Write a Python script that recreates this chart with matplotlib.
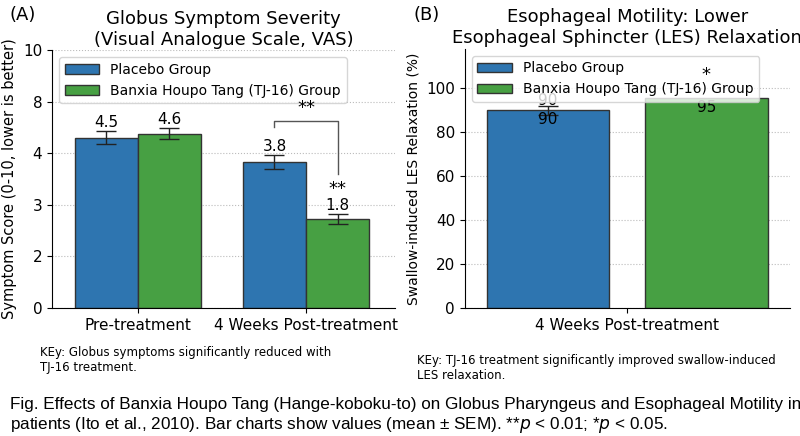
import matplotlib.pyplot as plt

groups = ["Pre-treatment", "4 Weeks Post-treatment"]
placebo = [3.3, 2.83]
tj16 = [3.38, 1.72]
placebo_err = [0.13, 0.13]
tj16_err = [0.1, 0.1]
placebo_lbl = ["4.5", "3.8"]
tj16_lbl = ["4.6", "1.8"]
vas_ticks = [0, 1, 2, 3, 4, 5]
vas_ticklabels = ["0", "2", "3", "4", "8", "10"]

les_placebo = 90
les_tj16 = 95.5
les_placebo_err = 2

BLUE = "#2e75b0"
GREEN = "#47a043"


def main():
    plt.rcParams["font.family"] = "DejaVu Sans"
    fig = plt.figure(figsize=(8.0, 4.36), dpi=100)
    ax1 = fig.add_axes([0.065, 0.294, 0.429, 0.591])
    ax2 = fig.add_axes([0.581, 0.294, 0.406, 0.594])

    w = 0.375
    x = [0, 1]
    ekw = dict(ecolor="#222222", capsize=7, elinewidth=1)
    ax1.bar([i - w / 2 for i in x], placebo, w, yerr=placebo_err, color=BLUE,
            edgecolor="#333333", label="Placebo Group", error_kw=ekw, zorder=2)
    ax1.bar([i + w / 2 for i in x], tj16, w, yerr=tj16_err, color=GREEN,
            edgecolor="#333333", label="Banxia Houpo Tang (TJ-16) Group",
            error_kw=ekw, zorder=2)
    for i in x:
        ax1.text(i - w / 2, placebo[i] + placebo_err[i] + 0.02, placebo_lbl[i],
                 ha="center", va="bottom", fontsize=11)
        ax1.text(i + w / 2, tj16[i] + tj16_err[i] + 0.02, tj16_lbl[i],
                 ha="center", va="bottom", fontsize=11)
    ax1.text(1 + w / 2, 2.3, "**", ha="center", va="center", fontsize=13)
    ax1.plot([1 - w / 2, 1 - w / 2, 1 + w / 2, 1 + w / 2],
             [3.5, 3.63, 3.63, 2.6], color="#555555", lw=1)
    ax1.text(1, 3.7, "**", ha="center", va="bottom", fontsize=13, zorder=10)
    ax1.set_xlim(-0.51, 1.53)
    ax1.set_ylim(0, 5)
    ax1.set_yticks(vas_ticks)
    ax1.set_yticklabels(vas_ticklabels)
    ax1.set_xticks(x)
    ax1.set_xticklabels(groups)
    ax1.set_ylabel("Symptom Score (0-10, lower is better)", fontsize=10.5)
    ax1.set_title("Globus Symptom Severity\n(Visual Analogue Scale, VAS)", fontsize=13, pad=4)
    leg = ax1.legend(loc="upper left", fontsize=10, fancybox=True, handlelength=2.5)
    leg.set_zorder(4)

    ax2.bar(-0.2, les_placebo, 0.31, yerr=les_placebo_err, color=BLUE,
            edgecolor="#333333", label="Placebo Group", error_kw=ekw, zorder=2)
    ax2.bar(0.2, les_tj16, 0.31, color=GREEN, edgecolor="#333333",
            label="Banxia Houpo Tang (TJ-16) Group", zorder=2)
    ax2.text(-0.2, les_placebo + 1, "90", ha="center", va="bottom", fontsize=11)
    ax2.text(-0.2, les_placebo - 1, "90", ha="center", va="top", fontsize=11)
    ax2.text(0.2, les_tj16 - 1, "95", ha="center", va="top", fontsize=11)
    ax2.text(0.2, 106, "*", ha="center", va="center", fontsize=13, zorder=10)
    ax2.set_xlim(-0.41, 0.41)
    ax2.set_ylim(0, 118)
    ax2.set_yticks([0, 20, 40, 60, 80, 100])
    ax2.set_xticks([0])
    ax2.set_xticklabels(["4 Weeks Post-treatment"])
    ax2.set_ylabel("Swallow-induced LES Relaxation (%)", fontsize=10)
    ax2.set_title("Esophageal Motility: Lower\nEsophageal Sphincter (LES) Relaxation", fontsize=13, pad=4)
    leg = ax2.legend(loc="upper left", fontsize=10, fancybox=True, handlelength=2.5)
    leg.set_zorder(4)

    for ax in (ax1, ax2):
        ax.grid(axis="y", linestyle=":", color="#bbbbbb", lw=0.8, zorder=0)
        ax.spines["top"].set_visible(False)
        ax.spines["right"].set_visible(False)
        ax.tick_params(labelsize=11)

    fig.text(0.012, 0.965, "(A)", fontsize=13, va="center")
    fig.text(0.517, 0.965, "(B)", fontsize=13, va="center")
    fig.text(0.05, 0.175, "KEy: Globus symptoms significantly reduced with\nTJ-16 treatment.",
             fontsize=8.5, va="center")
    fig.text(0.521, 0.155, "KEy: TJ-16 treatment significantly improved swallow-induced\nLES relaxation.",
             fontsize=8.5, va="center")
    fig.text(0.012, 0.045,
             "Fig. Effects of Banxia Houpo Tang (Hange-koboku-to) on Globus Pharyngeus and Esophageal Motility in\n"
             "patients (Ito et al., 2010). Bar charts show values (mean ± SEM). **$p$ < 0.01; *$p$ < 0.05.",
             fontsize=12.3, va="center", family="Liberation Sans")

    plt.savefig("out.png", dpi=100)


if __name__ == "__main__":
    main()
